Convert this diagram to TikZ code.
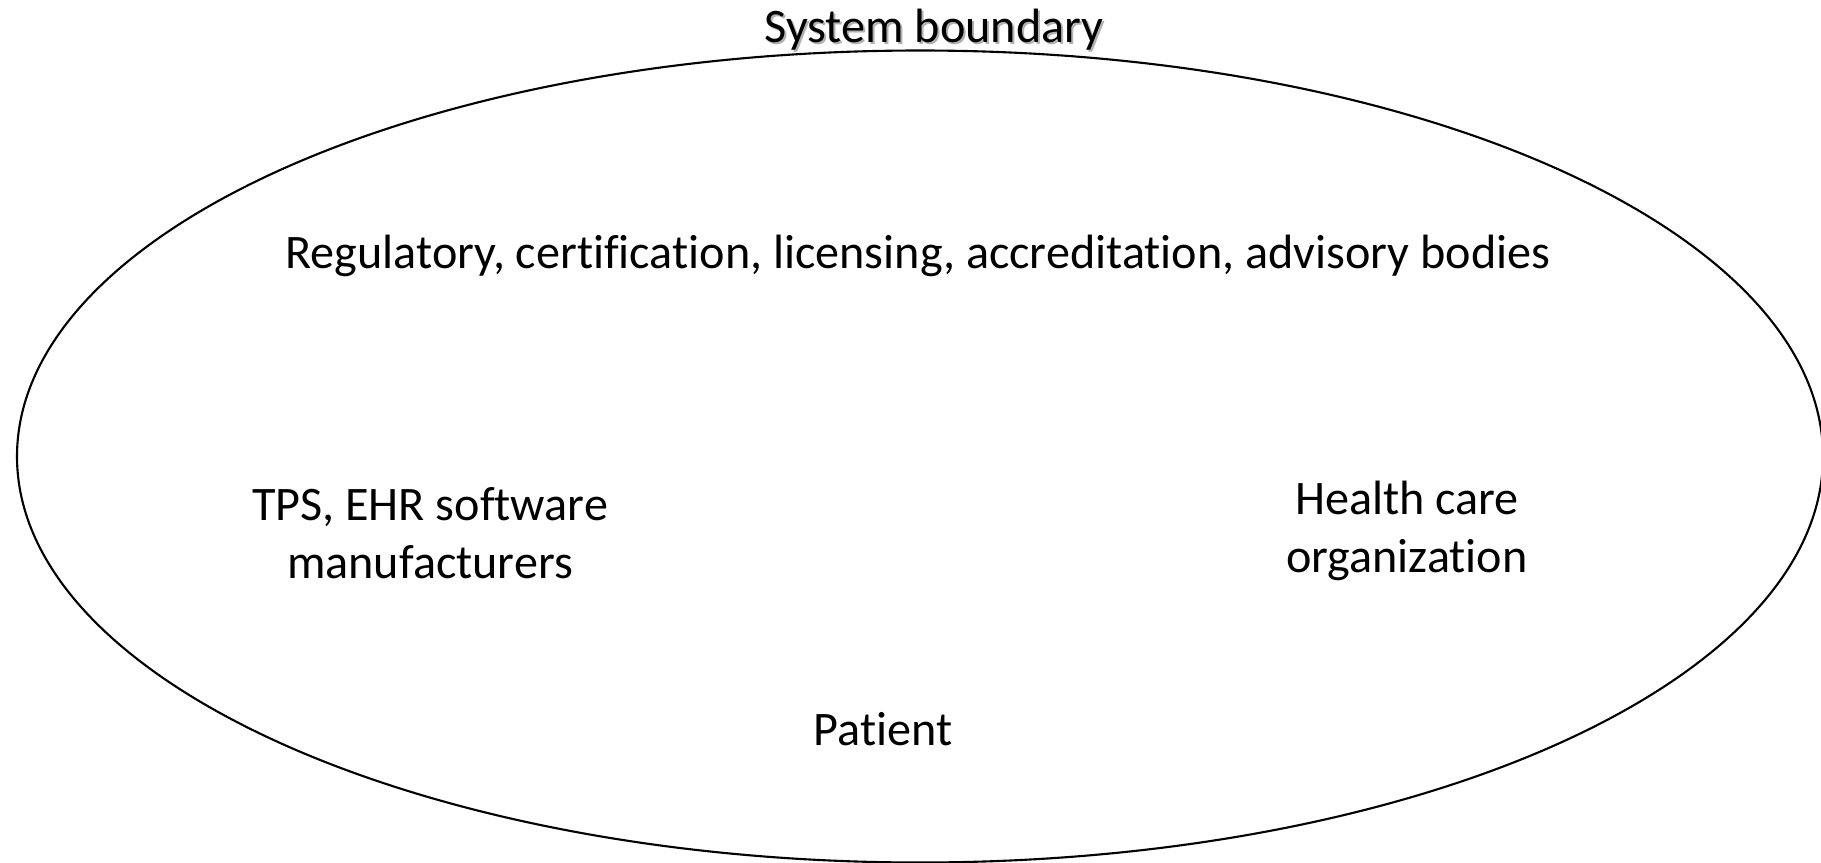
\documentclass[tikz,border=0pt]{standalone}
\usepackage{fontspec}
\setmainfont[Ligatures=NoCommon]{Carlito}
\usepackage{tikz}
\usetikzlibrary{shapes, positioning}

\begin{document}
\begin{tikzpicture}[x=1cm, y=1cm,
        actor/.style={font=\fontsize{13.7}{16.5}\selectfont, align=center, inner sep=0pt, anchor=base}]
        % Cadre
        \useasboundingbox (0,0) rectangle (18.21,-8.63);
        \clip (0,0) rectangle (18.21,-8.63);
        % Frontiere du systeme
        \draw[black, line width=0.6pt] (9.20,-4.565) ellipse (9.03 and 4.06);
        % Titre avec ombre
        \node[actor, text=black!30] at (9.36,-0.44) {System boundary};
        \node[actor] (boundary) at (9.34,-0.42) {System boundary};
        % Acteurs
        \node[actor] (regulators) at (9.18,-2.68) {Regulatory, certification, licensing, accreditation, advisory bodies};
        \node[actor] (vendors) at (4.30,-5.78) {TPS, EHR software\\manufacturers};
        \node[actor] (hco) at (14.07,-5.72) {Health care\\organization};
        \node[actor] (patient) at (8.83,-7.45) {Patient};
    \end{tikzpicture}
\end{document}
